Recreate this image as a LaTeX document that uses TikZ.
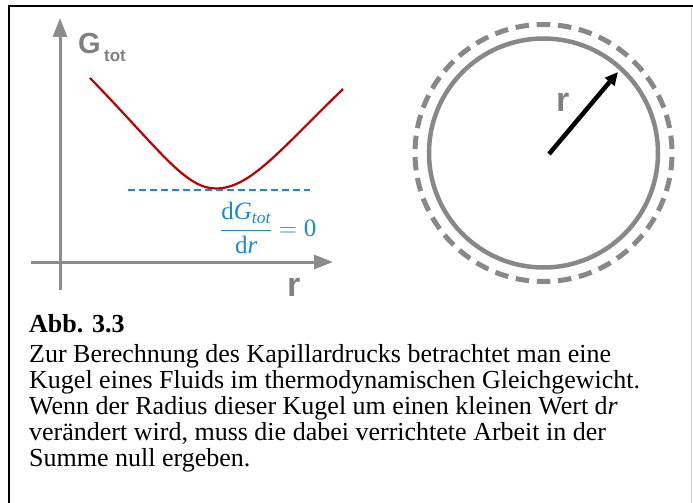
\documentclass[tikz,border=0pt]{standalone}
\usepackage{amsmath}
\usepackage{fontspec}
\setmainfont{Liberation Serif}
\newfontfamily\labelfont{Liberation Sans}
\usetikzlibrary{arrows.meta}
\definecolor{axgray}{RGB}{140,140,140}
\definecolor{lblgray}{RGB}{128,128,128}
\definecolor{curvered}{RGB}{192,0,0}
\definecolor{eqblue}{RGB}{25,135,225}
\definecolor{ringgray}{RGB}{136,136,136}
\begin{document}
\begin{tikzpicture}[x=1pt,y=-1pt,
  axis/.style={draw=axgray, line width=3pt, -{Triangle[length=19pt,width=14pt]}},
  lbl/.style={text=lblgray, inner sep=0pt, anchor=base west},
  capline/.style={inner sep=0pt, anchor=base west, font=\fontsize{26}{28}\selectfont}]
\useasboundingbox (0,0) rectangle (693,503);
\fill[white] (0,0) rectangle (693,503);
% frame
\draw[black, line width=2pt] (8.5,503) -- (8.5,6.5) -- (693,6.5);
\draw[black!18, line width=1pt] (691.5,7.5) -- (691.5,503);
% axes
\coordinate (yb) at (60,290); \coordinate (yt) at (60,18);
\coordinate (xl) at (31,262); \coordinate (xr) at (333,262);
\draw[axis] (yb) -- (yt);
\draw[axis] (xl) -- (xr);
\node[lbl, font=\labelfont\bfseries\fontsize{29}{29}\selectfont] (G) at (78,53.5) {G};
\node[lbl, font=\labelfont\bfseries\fontsize{17}{17}\selectfont] (tot) at (104,62) {tot};
\node[lbl, font=\labelfont\bfseries\fontsize{34}{34}\selectfont] (rx) at (287,296) {r};
% curve
\coordinate (c0) at (90,78); \coordinate (cm) at (216,188.5); \coordinate (c1) at (343,89);
\draw[curvered, line width=2.2pt] (c0) .. controls (160,150) and (185,188.5) .. (cm)
  .. controls (250,188.5) and (280,150) .. (c1);
\coordinate (d0) at (128,189.5); \coordinate (d1) at (310,189.5);
\draw[eqblue, line width=2pt, dash pattern=on 6.5pt off 4.5pt] (d0) -- (d1);
\node[text=eqblue, inner sep=0pt, anchor=west, font=\fontsize{25}{27}\selectfont] (eq) at (220,228)
  {$\dfrac{\text{d}\textit{G}_{\textit{tot}}}{\text{d}\textit{r}}=\text{0}$};
% sphere
\coordinate (O) at (543.5,153);
\draw[ringgray, line width=4.5pt] (O) circle[radius=114.5];
\draw[ringgray, line width=5pt, dash pattern=on 13.5pt off 7.747pt, dash phase=6.75pt]
  (O) ++(0,-128.5) arc[start angle=-90, end angle=270, radius=128.5];
\coordinate (tail) at (549,154); \coordinate (tip) at (618,72);
\draw[black, line width=4.5pt, -{Triangle[length=13pt,width=12pt]}] (tail) -- (tip);
\node[lbl, font=\labelfont\bfseries\fontsize{34}{34}\selectfont] (rc) at (556,111) {r};
% caption
\node[capline, font=\bfseries\fontsize{26}{28}\selectfont] (l0) at (29,332) {Abb. 3.3};
\node[capline] (l1) at (29,362) {Zur Berechnung des Kapillardrucks betrachtet man eine};
\node[capline] (l2) at (29,388) {Kugel eines Fluids im thermodynamischen Gleichgewicht.};
\node[capline] (l3) at (29,414) {Wenn der Radius dieser Kugel um einen kleinen Wert d\textit{r}};
\node[capline] (l4) at (29,440) {verändert wird, muss die dabei verrichtete Arbeit in der};
\node[capline] (l5) at (29,466) {Summe null ergeben.};
\end{tikzpicture}
\end{document}
